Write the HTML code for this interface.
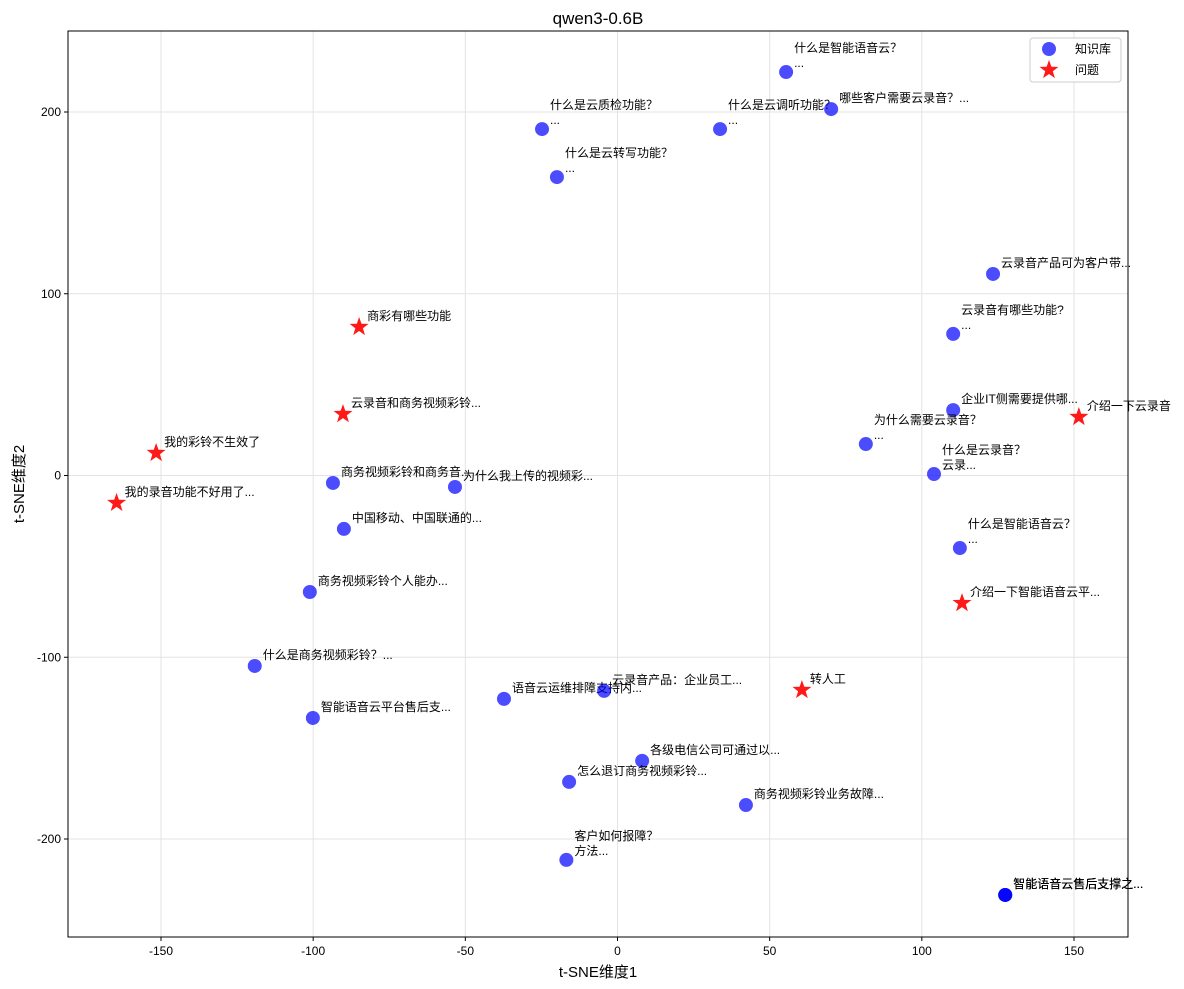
<!DOCTYPE html>
<html><head><meta charset="utf-8">
<style>
body{margin:0;background:#fff;}
svg{display:block;font-family:"Liberation Sans","Noto Sans CJK SC",sans-serif;}
</style></head>
<body>
<svg id="chart" width="1184" height="989"></svg>
<script>
const kbX=[55.4,-24.8,33.7,70.2,-19.9,123.4,110.3,110.3,81.6,104,112.5,-93.5,-53.4,-89.9,-101.1,-119.2,-100.1,-37.3,-4.4,8.1,-15.9,42.2,-16.8,127.4,127.4,127.4];
const kbY=[222,190.6,190.6,201.6,164.2,110.9,77.9,36.0,17.3,0.8,-39.9,-4.1,-6.3,-29.4,-64.1,-104.8,-133.4,-122.9,-118.5,-157,-168.6,-181.3,-211.5,-230.8,-230.8,-230.8];
const kbLabels=["什么是智能语音云？\n...","什么是云质检功能？\n...","什么是云调听功能？\n...","哪些客户需要云录音？...","什么是云转写功能？\n...","云录音产品可为客户带...","云录音有哪些功能?\n...","企业IT侧需要提供哪...","为什么需要云录音？\n...","什么是云录音？\n云录...","什么是智能语音云？\n...","商务视频彩铃和商务音...","为什么我上传的视频彩...","中国移动、中国联通的...","商务视频彩铃个人能办...","什么是商务视频彩铃？...","智能语音云平台售后支...","语音云运维排障支持内...","云录音产品：企业员工...","各级电信公司可通过以...","怎么退订商务视频彩铃...","商务视频彩铃业务故障...","客户如何报障？\n方法...","智能语音云售后支撑之...","智能语音云售后支撑之...","智能语音云售后支撑之..."];
const qX=[-84.9,-90.2,-151.6,-164.6,151.6,113.2,60.6];
const qY=[81.7,33.8,12.4,-15.1,32.2,-70.2,-118];
const qLabels=["商彩有哪些功能","云录音和商务视频彩铃...","我的彩铃不生效了","我的录音功能不好用了...","介绍一下云录音","介绍一下智能语音云平...","转人工"];
const xTicks=[-150,-100,-50,0,50,100,150];
const yTicks=[-200,-100,0,100,200];

const L=68,R=1128,T=31,B=937;
const sx=v=>617.5+v*3.0433;
const sy=v=>475.5-v*1.8175;
const svg=document.getElementById('chart');
const NS='http://www.w3.org/2000/svg';
function mk(tag,attrs,parent){const e=document.createElementNS(NS,tag);for(const k in attrs)e.setAttribute(k,attrs[k]);(parent||svg).appendChild(e);return e;}

const grid=mk('g',{});


xTicks.forEach(t=>{
  mk('line',{x1:sx(t),x2:sx(t),y1:T,y2:B,stroke:'#e3e3e3','stroke-width':1},grid);
  mk('line',{x1:sx(t),x2:sx(t),y1:B,y2:B+4,stroke:'#000'});
  const tx=mk('text',{x:sx(t),y:B+18,'text-anchor':'middle','font-size':12});
  tx.textContent=t;
  
  
});
yTicks.forEach(t=>{
  mk('line',{x1:L,x2:R,y1:sy(t),y2:sy(t),stroke:'#e3e3e3','stroke-width':1},grid);
  mk('line',{x1:L-4,x2:L,y1:sy(t),y2:sy(t),stroke:'#000'});
  const tx=mk('text',{x:L-7,y:sy(t)+4,'text-anchor':'end','font-size':12});
  tx.textContent=t;
  
  
});

function label(x,y,s){
  const lines=s.split('\n');
  lines.forEach((ln,i)=>{
    const off=lines.length===2?(i===0?-20:-5):-7;
    const t=mk('text',{x:x+8,y:y+off,'font-size':12});
    t.textContent=ln;
    
    
  });
}
kbX.forEach((v,i)=>{
  const c=mk('circle',{cx:sx(v),cy:sy(kbY[i]),r:7,fill:'#0000ff','fill-opacity':0.7});
  
  
  label(sx(v),sy(kbY[i]),kbLabels[i]);
});
function star(cx,cy,r,parent){
  let p=[];
  for(let k=0;k<10;k++){const a=-Math.PI/2+k*Math.PI/5;const rr=k%2?r*0.4:r;p.push((cx+rr*Math.cos(a)).toFixed(1)+','+(cy+rr*Math.sin(a)).toFixed(1));}
  return mk('polygon',{points:p.join(' '),fill:'#ff0000','fill-opacity':0.9},parent);
}
qX.forEach((v,i)=>{
  const s=star(sx(v),sy(qY[i]),10);
  
  
  label(sx(v),sy(qY[i]),qLabels[i]);
});

const frame=mk('rect',{x:L,y:T,width:R-L,height:B-T,fill:'none',stroke:'#000','stroke-width':1});



const title=mk('text',{x:598,y:24,'text-anchor':'middle','font-size':17});
title.textContent='qwen3-0.6B';


const xt=mk('text',{x:598,y:977,'text-anchor':'middle','font-size':15});
xt.textContent='t-SNE维度1';


const yt=mk('text',{x:24,y:484,'text-anchor':'middle','font-size':15,transform:'rotate(-90 24 484)'});
yt.textContent='t-SNE维度2';



const lg=mk('g',{});


mk('rect',{x:1030,y:38,width:91,height:44,rx:3,fill:'#fff',stroke:'#ccc'},lg);
mk('circle',{cx:1049,cy:49,r:7,fill:'#0000ff','fill-opacity':0.7},lg);
const l1=mk('text',{x:1075,y:53,'font-size':12},lg);
l1.textContent='知识库';


star(1049,70,10,lg);
const l2=mk('text',{x:1075,y:74,'font-size':12},lg);
l2.textContent='问题';


</script>
</body></html>
